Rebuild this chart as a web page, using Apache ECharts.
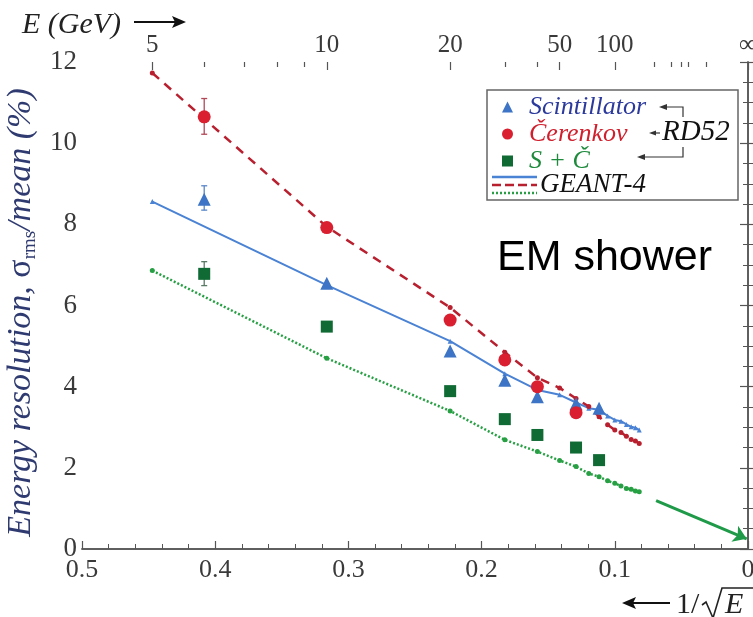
<!DOCTYPE html>
<html>
<head>
<meta charset="utf-8">
<script src="https://cdn.jsdelivr.net/npm/echarts@6/dist/echarts.min.js"></script>
<style>
  html, body { margin: 0; padding: 0; background: #fff; }
  #chart { width: 753px; height: 617px; }
</style>
</head>
<body>
<div id="chart"></div>
<script>
// Beam energies (GeV) of the RD52 measurements
const energies = [6, 10, 20, 30, 40, 60, 80];
// Energy resolution sigma_rms/mean (%) per channel
const scintillator = [8.62, 6.55, 4.88, 4.16, 3.75, 3.58, 3.47];
const cerenkov = [10.65, 7.92, 5.64, 4.66, 4.00, 3.36, null];
const combined = [6.78, 5.48, 3.89, 3.20, 2.81, 2.50, 2.19];

// Error bars at 6 GeV: [energy, low, high]
const scintErr = [[6, 8.35, 8.95]];
const cerenErr = [[6, 10.22, 11.10]];
const combErr = [[6, 6.49, 7.08]];

// GEANT-4 simulation
const geantEnergies = [5, 10, 20, 30, 40, 50, 60, 70, 80, 90, 100, 110, 120, 130, 140, 150];
const geantScint = [8.56, 6.50, 5.12, 4.32, 3.92, 3.80, 3.61, 3.47, 3.43, 3.28, 3.18, 3.15, 3.07, 3.01, 2.99, 2.93];
const geantCeren = [11.73, 7.94, 5.95, 4.85, 4.22, 3.97, 3.71, 3.51, 3.26, 3.06, 2.93, 2.87, 2.78, 2.70, 2.66, 2.60];
const geantComb = [6.86, 4.70, 3.40, 2.69, 2.40, 2.18, 2.03, 1.86, 1.78, 1.68, 1.62, 1.55, 1.49, 1.47, 1.43, 1.41];

// Extrapolation arrow towards infinite energy: [1/sqrt(E), resolution]
const extrapolation = [[0.069, 1.19], [0.001, 0.25]];

// Energy scale drawn along the top
const topLabelEnergies = [5, 10, 20, 50, 100, Infinity];
const topLabelTexts = ['5', '10', '20', '50', '100', '\u221E'];
const topMinorEnergies = [6, 7, 8, 9, 30, 40, 200, 300, 400, 500, 1000];

const invSqrt = e => 1 / Math.sqrt(e);
const pairs = (es, vs) => es.map((e, i) => [invSqrt(e), vs[i]]).filter(p => p[1] != null);
const errPairs = rows => rows.map(r => [invSqrt(r[0]), r[1], r[2]]);

const SERIF = 'Liberation Serif';
const AXIS_COLOR = '#555';
const LABEL_COLOR = '#3a3a3a';
const TITLE_COLOR = '#2f3b70';

const C_BLUE = '#3d74c5', C_RED = '#d91f30', C_GREEN = '#0f6a34';
const L_BLUE = '#4a82d4', L_RED = '#b8202f', L_GREEN = '#27a044';

function errorBarSeries(rows, color) {
  return {
    type: 'custom',
    z: 2,
    silent: true,
    data: errPairs(rows),
    renderItem: (params, api) => {
      const x = api.value(0);
      const lo = api.coord([x, api.value(1)]);
      const hi = api.coord([x, api.value(2)]);
      const st = { stroke: color, lineWidth: 1.3 };
      return {
        type: 'group',
        children: [
          { type: 'line', shape: { x1: lo[0], y1: lo[1], x2: hi[0], y2: hi[1] }, style: st },
          { type: 'line', shape: { x1: lo[0] - 3, y1: lo[1], x2: lo[0] + 3, y2: lo[1] }, style: st },
          { type: 'line', shape: { x1: hi[0] - 3, y1: hi[1], x2: hi[0] + 3, y2: hi[1] }, style: st }
        ]
      };
    }
  };
}

const topLabelFormatter = v => {
  for (let i = 0; i < topLabelEnergies.length; i++) {
    if (Math.abs(invSqrt(topLabelEnergies[i]) - v) < 1e-6) return topLabelTexts[i];
  }
  return '';
};

// a top axis that only carries tick marks at the given energies
function topTickAxis(list, len) {
  return {
    type: 'value', position: 'top', min: 0, max: 0.5, inverse: true,
    axisLine: { show: false },
    axisTick: {
      show: true, inside: true, length: len,
      customValues: list.map(invSqrt),
      lineStyle: { color: AXIS_COLOR, width: 1.2 }
    },
    splitLine: { show: false },
    axisLabel: { show: false }
  };
}

const chart = echarts.init(document.getElementById('chart'), null, { renderer: 'canvas' });

const option = {
  animation: false,
  backgroundColor: '#fff',
  grid: { left: 82, right: 5, top: 62, bottom: 68, outerBoundsMode: 'none' },
  xAxis: [
    {
      type: 'value', position: 'bottom', min: 0, max: 0.5, interval: 0.1, inverse: true,
      axisLine: { show: true, lineStyle: { color: AXIS_COLOR, width: 1.5 } },
      axisTick: { show: true, inside: true, length: 8, lineStyle: { color: AXIS_COLOR, width: 1.2 } },
      minorTick: { show: true, splitNumber: 5, length: 5, lineStyle: { color: AXIS_COLOR, width: 1 } },
      splitLine: { show: false },
      axisLabel: { color: LABEL_COLOR, fontFamily: SERIF, fontSize: 26, margin: 8 }
    },
    {
      type: 'value', position: 'top', min: 0, max: 0.5, inverse: true,
      axisLine: { show: true, lineStyle: { color: AXIS_COLOR, width: 1.5 } },
      axisTick: { show: false },
      splitLine: { show: false },
      axisLabel: {
        show: true, color: LABEL_COLOR, fontFamily: SERIF, fontSize: 25, margin: 4,
        customValues: topLabelEnergies.map(invSqrt),
        formatter: topLabelFormatter
      }
    },
    topTickAxis(topLabelEnergies, 8),
    topTickAxis(topMinorEnergies, 5)
  ],
  yAxis: [
    {
      type: 'value', position: 'left', min: 0, max: 12, interval: 2,
      axisLine: { show: true, lineStyle: { color: AXIS_COLOR, width: 1.5 } },
      axisTick: { show: true, inside: true, length: 8, lineStyle: { color: AXIS_COLOR, width: 1.2 } },
      minorTick: { show: true, splitNumber: 4, length: 5, lineStyle: { color: AXIS_COLOR, width: 1 } },
      splitLine: { show: false },
      axisLabel: { color: LABEL_COLOR, fontFamily: SERIF, fontSize: 27, margin: 5 },
      name: '{t|Energy resolution, }{g|\u03C3}{s|rms}{t|/mean (%)}',
      nameLocation: 'middle',
      nameRotate: 90,
      nameGap: 40,
      nameTextStyle: {
        padding: [0, 14, 0, 0],
        rich: {
          t: { fontFamily: SERIF, fontStyle: 'italic', fontSize: 34, color: TITLE_COLOR, lineHeight: 36, verticalAlign: 'middle' },
          g: { fontFamily: SERIF, fontSize: 34, color: TITLE_COLOR, lineHeight: 36, verticalAlign: 'middle' },
          s: { fontFamily: SERIF, fontSize: 19, color: TITLE_COLOR, lineHeight: 18, verticalAlign: 'bottom' }
        }
      }
    },
    {
      type: 'value', position: 'right', min: 0, max: 12, interval: 2,
      axisLine: { show: true, lineStyle: { color: AXIS_COLOR, width: 1.5 } },
      axisTick: { show: true, inside: true, length: 8, lineStyle: { color: AXIS_COLOR, width: 1.2 } },
      minorTick: { show: true, splitNumber: 4, length: 5, lineStyle: { color: AXIS_COLOR, width: 1 } },
      splitLine: { show: false },
      axisLabel: { show: false }
    }
  ],
  legend: {
    orient: 'vertical',
    left: 502, top: 94,
    padding: 0,
    itemGap: 1,
    itemWidth: 11, itemHeight: 11,
    selectedMode: false,
    textStyle: { fontFamily: SERIF, fontStyle: 'italic', fontSize: 26, lineHeight: 24, padding: [0, 0, 0, 11] },
    data: [
      { name: 'Scintillator', textStyle: { color: '#2b3a9c' } },
      { name: '\u010Cerenkov', textStyle: { color: '#d0202e' } },
      { name: 'S + \u010C', textStyle: { color: '#1e8a3c' } }
    ]
  },
  series: [
    {
      name: 'GEANT-4 S', type: 'line', z: 3,
      data: pairs(geantEnergies, geantScint),
      lineStyle: { color: L_BLUE, width: 2 },
      itemStyle: { color: L_BLUE },
      symbol: 'triangle', symbolSize: 5, showSymbol: true
    },
    {
      name: 'GEANT-4 C', type: 'line', z: 3,
      data: pairs(geantEnergies, geantCeren),
      lineStyle: { color: L_RED, width: 2.5, type: [9, 7] },
      itemStyle: { color: L_RED },
      symbol: 'circle', symbolSize: 5, showSymbol: true
    },
    {
      name: 'GEANT-4 S+C', type: 'line', z: 3,
      data: pairs(geantEnergies, geantComb),
      lineStyle: { color: L_GREEN, width: 2.5, type: [2, 2] },
      itemStyle: { color: L_GREEN },
      symbol: 'circle', symbolSize: 5, showSymbol: true
    },
    errorBarSeries(scintErr, '#5a86c8'),
    errorBarSeries(cerenErr, '#b04858'),
    errorBarSeries(combErr, '#5a7a66'),
    {
      name: 'Scintillator', type: 'scatter', z: 5,
      data: pairs(energies, scintillator),
      symbol: 'triangle', symbolSize: 13,
      itemStyle: { color: C_BLUE, opacity: 1 }
    },
    {
      name: '\u010Cerenkov', type: 'scatter', z: 5,
      data: pairs(energies, cerenkov),
      symbol: 'circle', symbolSize: 13,
      itemStyle: { color: C_RED, opacity: 1 }
    },
    {
      name: 'S + \u010C', type: 'scatter', z: 5,
      data: pairs(energies, combined),
      symbol: 'rect', symbolSize: 12,
      itemStyle: { color: C_GREEN, opacity: 1 }
    },
    {
      name: 'extrapolation', type: 'lines', coordinateSystem: 'cartesian2d', z: 4,
      symbol: ['none', 'arrow'], symbolSize: 13,
      lineStyle: { color: '#1f9a48', width: 3, opacity: 1 },
      data: [{ coords: extrapolation }]
    }
  ],
  graphic: [
    // legend frame
    { type: 'rect', z: 10, shape: { x: 487, y: 90, width: 251, height: 110 }, style: { fill: 'none', stroke: '#666', lineWidth: 1.5 } },
    // GEANT-4 line samples
    { type: 'line', z: 11, shape: { x1: 492, y1: 177, x2: 537, y2: 177 }, style: { stroke: L_BLUE, lineWidth: 2.5 } },
    { type: 'line', z: 11, shape: { x1: 492, y1: 185, x2: 537, y2: 185 }, style: { stroke: L_RED, lineWidth: 2.5, lineDash: [9, 4] } },
    { type: 'line', z: 11, shape: { x1: 492, y1: 193, x2: 537, y2: 193 }, style: { stroke: L_GREEN, lineWidth: 2.5, lineDash: [2, 2] } },
    { type: 'text', z: 11, style: { x: 540, y: 185, text: 'GEANT-4', fontFamily: SERIF, fontStyle: 'italic', fontSize: 27, fill: '#111', verticalAlign: 'middle' } },
    // RD52 grouping
    { type: 'text', z: 11, style: { x: 662, y: 132, text: 'RD52', fontFamily: SERIF, fontStyle: 'italic', fontSize: 29, fill: '#111', verticalAlign: 'middle' } },
    { type: 'polyline', z: 11, shape: { points: [[683, 117], [683, 107], [664, 107]] }, style: { stroke: '#333', lineWidth: 1.2, fill: 'none' } },
    { type: 'polygon', z: 11, shape: { points: [[659, 107], [667, 104], [667, 110]] }, style: { fill: '#333' } },
    { type: 'line', z: 11, shape: { x1: 654, y1: 133, x2: 660, y2: 133 }, style: { stroke: '#333', lineWidth: 1.2 } },
    { type: 'polygon', z: 11, shape: { points: [[649, 133], [656, 130.5], [656, 135.5]] }, style: { fill: '#333' } },
    { type: 'polyline', z: 11, shape: { points: [[683, 147], [683, 157], [643, 157]] }, style: { stroke: '#333', lineWidth: 1.2, fill: 'none' } },
    { type: 'polygon', z: 11, shape: { points: [[637, 157], [645, 154], [645, 160]] }, style: { fill: '#333' } },
    // annotation
    { type: 'text', z: 11, style: { x: 497, y: 258, text: 'EM shower', fontFamily: 'Liberation Sans', fontSize: 43, fill: '#000', verticalAlign: 'middle' } },
    // energy scale caption
    { type: 'text', z: 11, style: { x: 22, y: 25, text: 'E (GeV)', fontFamily: SERIF, fontStyle: 'italic', fontSize: 30, fill: '#222', verticalAlign: 'middle' } },
    { type: 'line', z: 11, shape: { x1: 134, y1: 22, x2: 176, y2: 22 }, style: { stroke: '#111', lineWidth: 2 } },
    { type: 'polygon', z: 11, shape: { points: [[186, 22], [172, 16], [175, 22], [172, 28]] }, style: { fill: '#111' } },
    // 1/sqrt(E) caption
    { type: 'line', z: 11, shape: { x1: 632, y1: 603, x2: 670, y2: 603 }, style: { stroke: '#111', lineWidth: 2 } },
    { type: 'polygon', z: 11, shape: { points: [[622, 603], [636, 597], [633, 603], [636, 609]] }, style: { fill: '#111' } },
    { type: 'text', z: 11, style: { x: 676, y: 605, text: '1/', fontFamily: SERIF, fontSize: 30, fill: '#222', verticalAlign: 'middle' } },
    { type: 'polyline', z: 11, shape: { points: [[702, 605], [706, 602], [713, 618], [722, 588], [753, 588]] }, style: { stroke: '#222', lineWidth: 1.6, fill: 'none' } },
    { type: 'text', z: 11, style: { x: 725, y: 605, text: 'E', fontFamily: SERIF, fontStyle: 'italic', fontSize: 30, fill: '#222', verticalAlign: 'middle' } }
  ]
};

chart.setOption(option);
</script>
</body>
</html>
